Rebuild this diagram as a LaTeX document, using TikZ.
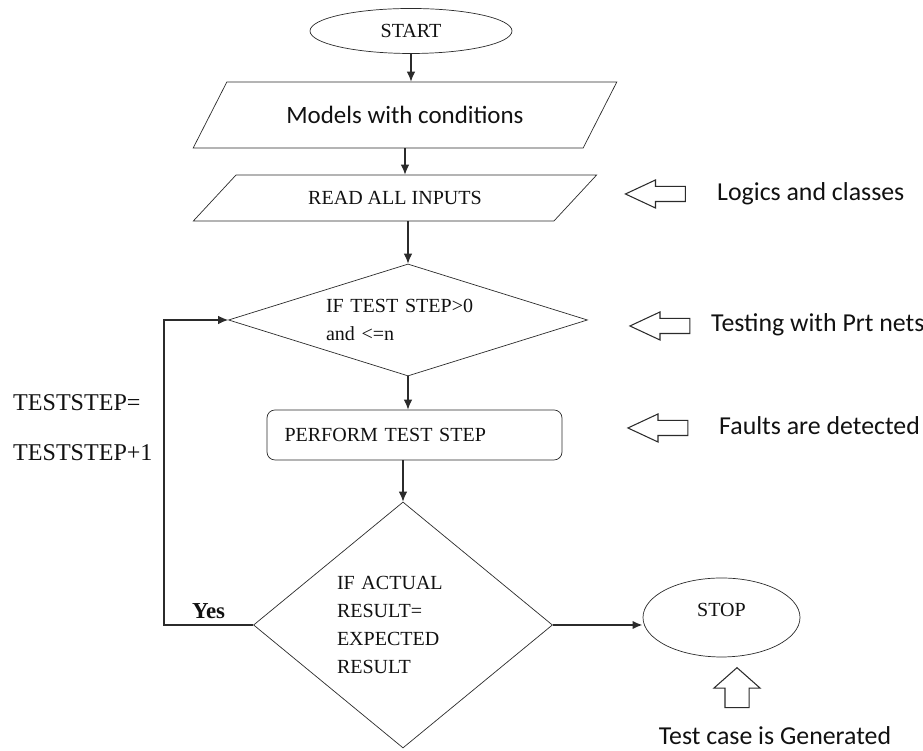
\documentclass[tikz,border=0pt]{standalone}
\usepackage{fontspec}
\setmainfont{Liberation Serif}
\newfontfamily\calibri{Carlito}
\usetikzlibrary{arrows.meta,positioning,shapes.geometric,shapes.arrows,calc}
\definecolor{ln}{HTML}{2B2B2B}
\definecolor{txt}{HTML}{111111}

\begin{document}
\begin{tikzpicture}[
  >={Latex[length=2mm,width=1.7mm]},
  term/.style={ellipse, draw=ln, inner sep=0pt, text=txt, font=\fontsize{11.4}{14}\selectfont},
  io/.style={trapezium, trapezium stretches=true, draw=ln, inner sep=0pt, text=txt},
  dec/.style={diamond, draw=ln, inner sep=0pt, align=left, text=txt, font=\fontsize{11.4}{16}\selectfont},
  proc/.style={rectangle, rounded corners=0.16cm, draw=ln, minimum height=1cm, text width=5.2cm, inner xsep=0.35cm, align=left, text=txt, font=\fontsize{11.4}{14}\selectfont},
  arr/.style={->, color=ln, line width=0.6pt},
  note/.style={font=\calibri\fontsize{14.7}{18}\selectfont, text=txt},
  ptr/.style={single arrow, draw=ln, line width=0.6pt},
]
\useasboundingbox (0,0) rectangle (18.46,15.02);

\node[term, minimum width=4.04cm, minimum height=0.9cm] (start) at (8.22, 14.40) {START};
\node[io, trapezium left angle=38, trapezium right angle=142, minimum width=8.48cm, minimum height=1.32cm, font=\calibri\fontsize{14.2}{17}\selectfont] (models) at (8.10, 12.72) {Models with conditions};
\node[io, trapezium left angle=30, trapezium right angle=150, minimum width=8.08cm, minimum height=0.92cm, font=\fontsize{11.4}{14}\selectfont] (inputs) at (7.90, 11.06) {READ ALL INPUTS};
\node[dec, aspect=3.2, minimum width=7.18cm, minimum height=2.24cm, text width=3.28cm] (chk) at (8.16, 8.62) {IF TEST STEP>0\\and <=n};
\node[proc] (perform) at (8.29, 6.32) {PERFORM TEST STEP};
\node[dec, aspect=1.2, minimum width=5.98cm, minimum height=4.92cm, text width=2.64cm] (cmp) at (8.06, 2.52) {IF ACTUAL\\RESULT=\\EXPECTED\\RESULT};
\node[term, minimum width=3.14cm, minimum height=1.58cm, text depth=0.32cm] (stop) at (14.43, 2.67) {STOP};

\node[font=\fontsize{13.7}{28.5}\selectfont, align=left, anchor=west, text=txt] (incr) at (0.14, 6.46) {TESTSTEP=\\TESTSTEP+1};

\draw[arr] (start) -- (start |- models.north);
\draw[arr] (models.south) -- (models.south |- inputs.north);
\draw[arr] (inputs.south -| chk.north) -- (chk.north);
\draw[arr] (chk.south) -- (chk.south |- perform.north);
\draw[arr] (perform.south -| cmp.north) -- (cmp.north);
\draw[arr, line width=1.3pt] (cmp.east) -- (cmp.east -| stop.west);

\coordinate (back) at (3.28, 8.62);
\draw[arr] (cmp.west) -- node[above, font=\bfseries\fontsize{13}{15}\selectfont, text=txt] (yes) {Yes} (cmp.west -| back) |- (chk.west);

% pointers to the notes
\node[ptr, shape border rotate=180, inner sep=0.14cm, minimum height=1.2cm, single arrow head extend=0.13cm, single arrow tip angle=50] (p1) at (13.27, 11.14) {};
\node[ptr, shape border rotate=180, inner sep=0.14cm, minimum height=1.2cm, single arrow head extend=0.13cm, single arrow tip angle=50] (p2) at (13.36, 8.50) {};
\node[ptr, shape border rotate=180, inner sep=0.14cm, minimum height=1.2cm, single arrow head extend=0.13cm, single arrow tip angle=50] (p3) at (13.32, 6.46) {};
\node[ptr, shape border rotate=90, inner sep=0.23cm, minimum height=0.8cm, single arrow head extend=0.22cm, single arrow tip angle=97] (p4) at (14.74, 1.16) {};

\node[note, anchor=base west] (n1) at (14.22, 11.0) {Logics and classes};
\node[note, anchor=base west] (n2) at (14.10, 8.38) {Testing with Prt nets};
\node[note, anchor=base west] (n3) at (14.26, 6.32) {Faults are detected};
\node[note, anchor=base] (n4) at (15.50, 0.12) {Test case is Generated};

\end{tikzpicture}
\end{document}
